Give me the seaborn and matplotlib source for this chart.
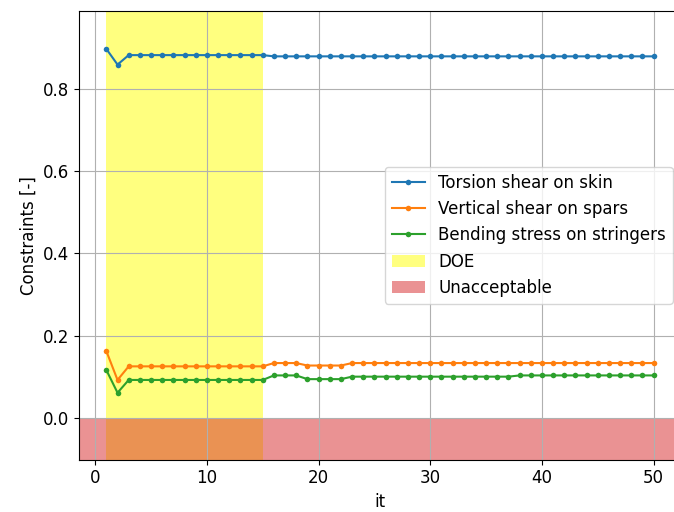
import numpy as np
import pandas as pd
import matplotlib
matplotlib.use("Agg")
import matplotlib.pyplot as plt
import seaborn as sns

# iterations
iterations = list(range(1, 51))

# constraint values
torsion_skin = [0.896, 0.858] + [0.881] * 13 + [0.878] * 35
vertical_spars = [0.163, 0.093] + [0.126] * 13 + [0.134] * 3 + [0.128] * 4 + [0.134] * 28
bending_stringers = [0.117, 0.062] + [0.093] * 13 + [0.104] * 3 + [0.095] * 4 + [0.101] * 15 + [0.104] * 13

series_names = ["Torsion shear on skin", "Vertical shear on spars", "Bending stress on stringers"]
series_values = [torsion_skin, vertical_spars, bending_stringers]
series_colors = ["#1f77b4", "#ff7f0e", "#2ca02c"]

# DOE phase and unacceptable region
doe_range = (1, 15)
unacceptable_range = (-0.1, 0.0)

plt.rcParams["font.size"] = 12

fig = plt.figure(figsize=(6.74, 5.12), dpi=100)
ax = fig.add_axes([0.1172, 0.1025, 0.8932, 0.876])

for name, values, color in zip(series_names, series_values, series_colors):
    df = pd.DataFrame({"it": iterations, "value": values})
    sns.lineplot(data=df, x="it", y="value", ax=ax, color=color, label=name,
                 marker="o", markersize=4, markeredgewidth=0, linewidth=1.5)

ax.axvspan(doe_range[0], doe_range[1], color="yellow", alpha=0.5, linewidth=0, label="DOE")
ax.axhspan(unacceptable_range[0], unacceptable_range[1], color="tab:red", alpha=0.5,
           linewidth=0, label="Unacceptable")

ax.set_xlim(-1.45, 52.45)
ax.set_ylim(-0.1, 0.988)
ax.set_xticks([0, 10, 20, 30, 40, 50])
ax.set_yticks([0.0, 0.2, 0.4, 0.6, 0.8])
ax.grid(True, color="#b0b0b0", linewidth=0.8)
ax.set_xlabel("it")
ax.set_ylabel("Constraints [-]")

handles, labels = ax.get_legend_handles_labels()
ax.legend(handles, labels, loc="center right", fontsize=12)

fig.savefig("out.png", dpi=100)
